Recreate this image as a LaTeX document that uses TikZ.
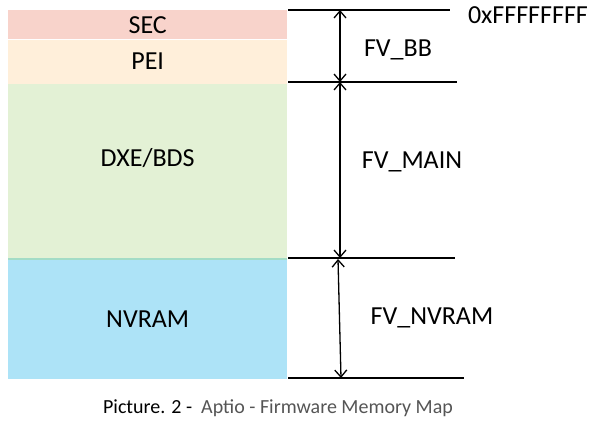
\documentclass[tikz,border=0pt]{standalone}
\usepackage{fontspec}
\setmainfont{Carlito}
\usetikzlibrary{positioning,arrows.meta}

\definecolor{secpink}{HTML}{F8D3CB}
\definecolor{peicream}{HTML}{FFEFDA}
\definecolor{dxegreen}{HTML}{E3F1D5}
\definecolor{seamgreen}{HTML}{A3DCC6}
\definecolor{nvblue}{HTML}{ADE3F7}
\definecolor{capgray}{HTML}{555555}

\begin{document}
\begin{tikzpicture}[
			x=1pt, y=-1pt,
			node distance=0pt,
			region/.style = {minimum width=279pt, inner sep=0pt, font=\fontsize{26}{28}\selectfont},
			lbl/.style = {inner sep=0pt, font=\fontsize{26}{28}\selectfont},
			bound/.style = {line width=1.8pt},
			span/.style = {line width=1.3pt, {Straight Barb[length=7pt,width=12pt]}-{Straight Barb[length=7pt,width=12pt]}}
		]
		\useasboundingbox (0,0) rectangle (616,428);
		% Memory regions, top to bottom.
		\node[region, fill=secpink, minimum height=29pt, anchor=north west] (sec) at (8,10) {SEC};
		\node[region, fill=peicream, minimum height=44pt] (pei) [below=of sec] {PEI};
		\node[region, fill=dxegreen, minimum height=175pt,
			label={[lbl, yshift=13pt]center:DXE/BDS}] (dxe) [below=of pei] {};
		\node[region, fill=nvblue, minimum height=120pt] (nvram) [below=of dxe] {NVRAM};
		\draw[seamgreen, line width=2pt] (dxe.south west) -- (dxe.south east);
		% Boundary lines.
		\coordinate (b0l) at (288,10);  \coordinate (b0r) at (450,10);
		\coordinate (b1l) at (288,82);  \coordinate (b1r) at (457,82);
		\coordinate (b2l) at (288,258); \coordinate (b2r) at (455,258);
		\coordinate (b3l) at (288,378); \coordinate (b3r) at (464,378);
		\draw[bound] (b0l) -- (b0r);
		\draw[bound] (b1l) -- (b1r);
		\draw[bound] (b2l) -- (b2r);
		\draw[bound] (b3l) -- (b3r);
		% Sizes of the volumes.
		\coordinate (a0) at (340,10);
		\coordinate (a1) at (340,82);
		\coordinate (a2) at (340,258);
		\coordinate (a2n) at (338,259);
		\coordinate (a3) at (341,378);
		\draw[span] (a0) -- (a1);
		\draw[span] (a1) -- (a2);
		\draw[span] (a2n) -- (a3);
		\node[lbl] (top) at (528,15) {0xFFFFFFFF};
		\node[lbl] (fvbb) at (398,50) {FV\_BB};
		\node[lbl] (fvmain) at (412,162) {FV\_MAIN};
		\node[lbl] (fvnv) at (432,318) {FV\_NVRAM};
		% Caption.
		\node[inner sep=0pt, font=\fontsize{20}{22}\selectfont] (cap) at (278,408)
			{Picture. 2 -\ \ \textcolor{capgray}{Aptio - Firmware Memory Map}};
	\end{tikzpicture}
\end{document}
